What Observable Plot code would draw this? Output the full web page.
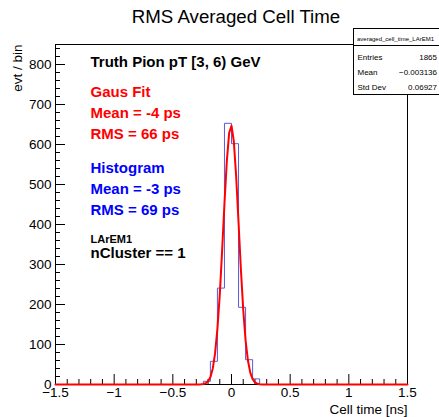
<!DOCTYPE html>
<html><head><meta charset="utf-8">
<script src="https://cdn.jsdelivr.net/npm/d3@7"></script>
<script src="https://cdn.jsdelivr.net/npm/@observablehq/plot@0.6"></script>
<style>body{margin:0;background:#fff;}</style>
</head><body><div id="chart"></div>
<script>
// ---- data ----
const title = "RMS Averaged Cell Time";
const xLabel = "Cell time [ns]";
const yLabel = "evt / bin";
const binEdges = [-0.24, -0.18, -0.12, -0.06, 0, 0.06, 0.12, 0.18, 0.24];
const binCounts = [8, 58, 241, 653, 602, 193, 62, 14];
const fitX = [-1.5, -0.30, -0.28, -0.26, -0.24, -0.22, -0.20, -0.18, -0.16, -0.14, -0.12, -0.10, -0.08, -0.06, -0.04, -0.02, 0, 0.02, 0.04, 0.06, 0.08, 0.10, 0.12, 0.14, 0.16, 0.18, 0.20, 0.22, 0.24, 0.26, 0.28, 1.5];
const fitY = [0, 0, 0.1, 0.35, 1.1, 3, 7.9, 18.4, 39.6, 77.6, 139, 224, 334, 452, 558, 629, 647, 607, 519, 405, 288, 187, 110, 60, 29.6, 13.4, 5.5, 2.1, 0.7, 0.2, 0, 0];
const xTicks = [-1.5, -1, -0.5, 0, 0.5, 1, 1.5];
const xMinorTicks = [-1.4,-1.3,-1.2,-1.1,-0.9,-0.8,-0.7,-0.6,-0.4,-0.3,-0.2,-0.1,0.1,0.2,0.3,0.4,0.6,0.7,0.8,0.9,1.1,1.2,1.3,1.4];
const yTicks = [0, 100, 200, 300, 400, 500, 600, 700, 800];
const yMinorTicks = [20,40,60,80,120,140,160,180,220,240,260,280,320,340,360,380,420,440,460,480,520,540,560,580,620,640,660,680,720,740,760,780,820,840];
const headerLine = "Truth Pion pT [3, 6) GeV";
const fitLines = ["Gaus Fit", "Mean = -4 ps", "RMS = 66 ps"];
const histLines = ["Histogram", "Mean = -3 ps", "RMS = 69 ps"];
const layerLine = "LArEM1";
const clusterLine = "nCluster == 1";
const statsName = "averaged_cell_time_LArEM1";
const statsLabels = ["Entries", "Mean", "Std Dev"];
const statsValues = ["1865", "\u22120.003136", "0.06927"];

// ---- build ----
const histPts = [{x: -1.5, y: 0}]
  .concat(binEdges.map((e, i) => ({x: e, y: i < binCounts.length ? binCounts[i] : 0})))
  .concat([{x: 1.5, y: 0}]);
const fitPts = fitX.map((x, i) => ({x, y: fitY[i]}));

const W = 439, H = 417, ML = 55, MR = 32, MT = 44, MB = 33;
const YMAX = 850;
const pxY = (H - MT - MB) / YMAX;           // px per count
const pxX = (W - ML - MR) / 3;              // px per ns
const tickY = (px) => px / pxY;
const tickX = (px) => px / pxX;
const FONT = "'Liberation Sans', Arial, Helvetica, sans-serif";
const fmt = d => String(d).replace("-", "\u2212");

const txt = (s, o) => Plot.text([s], {text: d => d, frameAnchor: "top-left", textAnchor: "start", lineAnchor: "bottom", fontFamily: FONT, fontWeight: "bold", fontSize: 15, ...o});

const marks = [
  Plot.frame({stroke: "#000"}),
  Plot.ruleX(xMinorTicks, {y1: 0, y2: tickY(5), stroke: "#000"}),
  Plot.ruleX(xTicks, {y1: 0, y2: tickY(10), stroke: "#000"}),
  Plot.ruleY(yMinorTicks, {x1: -1.5, x2: -1.5 + tickX(5), stroke: "#000"}),
  Plot.ruleY(yTicks, {x1: -1.5, x2: -1.5 + tickX(10), stroke: "#000"}),
  Plot.axisX({ticks: xTicks, tickSize: 0, tickPadding: 3, tickFormat: fmt, label: null, fontSize: 13.5}),
  Plot.axisY({ticks: yTicks, tickSize: 0, tickPadding: 4, tickFormat: fmt, label: null, fontSize: 13.5}),
  Plot.line(histPts, {x: "x", y: "y", curve: "step-after", stroke: "#5a5ad8", strokeWidth: 1}),
  Plot.line(fitPts, {x: "x", y: "y", stroke: "#ff0000", strokeWidth: 2}),
  // title and axis labels
  Plot.text([title], {text: d => d, frameAnchor: "top", textAnchor: "middle", lineAnchor: "bottom", dx: 4.5, dy: -22, fontSize: 18.7, fontFamily: FONT}),
  Plot.text([xLabel], {text: d => d, frameAnchor: "bottom-right", textAnchor: "end", lineAnchor: "bottom", dy: 29, fontSize: 13.5, fontFamily: FONT}),
  Plot.text([yLabel], {text: d => d, frameAnchor: "top-left", textAnchor: "end", lineAnchor: "bottom", rotate: -90, dx: -34, dy: 0, fontSize: 13.5, fontFamily: FONT}),
  // annotations
  txt(headerLine, {dx: 35, dy: 22, fill: "#000"}),
  ...fitLines.map((s, i) => txt(s, {dx: 35, dy: 52 + i * 21, fill: "#ff0000"})),
  ...histLines.map((s, i) => txt(s, {dx: 35, dy: 128 + i * 21, fill: "#0000ff"})),
  txt(layerLine, {dx: 35, dy: 198, fontSize: 11, fill: "#000"}),
  txt(clusterLine, {dx: 35, dy: 213, fill: "#000"})
];

const plot = Plot.plot({
  width: W, height: H,
  marginLeft: ML, marginRight: MR, marginTop: MT, marginBottom: MB,
  x: {domain: [-1.5, 1.5]},
  y: {domain: [0, YMAX]},
  style: {fontFamily: FONT, fontSize: "13.5px", color: "#000", background: "#fff", overflow: "visible"},
  marks
});
document.getElementById("chart").appendChild(plot);

// stats box (drawn on top, like ROOT's TPaveStats)
const svg = d3.select(plot);
const g = svg.append("g").attr("font-family", FONT).attr("text-anchor", "start");
const bx = 353.5, by = 28.5, bw = 90, bh = 66;
g.append("rect").attr("x", bx).attr("y", by).attr("width", bw).attr("height", bh)
  .attr("fill", "#fff").attr("stroke", "#000").attr("stroke-width", 1);
g.append("line").attr("x1", bx).attr("x2", bx + bw).attr("y1", by + 17).attr("y2", by + 17).attr("stroke", "#000");
g.append("text").attr("x", bx + 3.5).attr("y", by + 12).attr("font-size", 6).attr("text-anchor", "start").text(statsName);
statsLabels.forEach((s, i) => {
  g.append("text").attr("x", bx + 4).attr("y", by + 31 + i * 15).attr("font-size", 8).attr("text-anchor", "start").text(s);
  g.append("text").attr("x", 437).attr("y", by + 31 + i * 15).attr("font-size", 8).attr("text-anchor", "end").text(statsValues[i]);
});
</script>
</body></html>
